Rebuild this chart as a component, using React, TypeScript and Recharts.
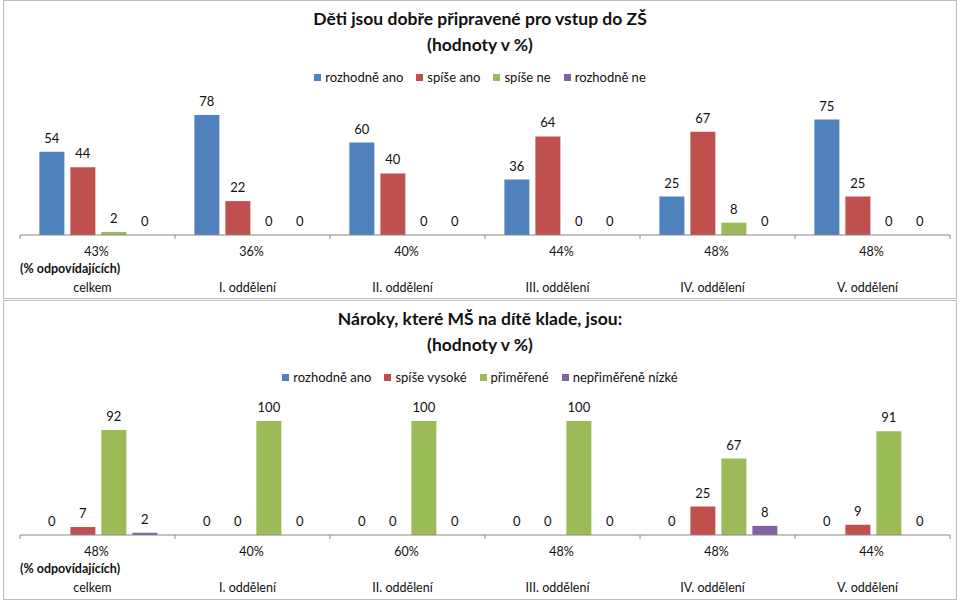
import React from 'react';
import { BarChart, Bar, XAxis, YAxis, LabelList } from 'recharts';

const categories = ['celkem', 'I. oddělení', 'II. oddělení', 'III. oddělení', 'IV. oddělení', 'V. oddělení'];

// Chart 1
const title1 = ['Děti jsou dobře připravené pro vstup do ZŠ', '(hodnoty v %)'];
const series1 = ['rozhodně ano', 'spíše ano', 'spíše ne', 'rozhodně ne'];
const s1a = [54, 78, 60, 36, 25, 75];
const s1b = [44, 22, 40, 64, 67, 25];
const s1c = [2, 0, 0, 0, 8, 0];
const s1d = [0, 0, 0, 0, 0, 0];
const pct1 = ['43%', '36%', '40%', '44%', '48%', '48%'];

// Chart 2
const title2 = ['Nároky, které MŠ na dítě klade, jsou:', '(hodnoty v %)'];
const series2 = ['rozhodně ano', 'spíše vysoké', 'přiměřené', 'nepřiměřeně nízké'];
const s2a = [0, 0, 0, 0, 0, 0];
const s2b = [7, 0, 0, 0, 25, 9];
const s2c = [92, 100, 100, 100, 67, 91];
const s2d = [2, 0, 0, 0, 8, 0];
const pct2 = ['48%', '40%', '60%', '48%', '48%', '44%'];

const respLabel = '(% odpovídajících)';
const colors = ['#4F81BD', '#C0504D', '#9BBB59', '#8064A2'];
const FONT = 'Lato, "Open Sans", sans-serif';

const CHART_W = 960;
const M_LEFT = 20;
const M_RIGHT = 10;
const BAND = (CHART_W - M_LEFT - M_RIGHT) / categories.length;

function build(vals: number[][]) {
  return categories.map((c, i) => ({ cat: c, a: vals[0][i], b: vals[1][i], c: vals[2][i], d: vals[3][i] }));
}

function makeTick(pcts: string[]) {
  return (props: any) => {
    const { x, y, payload, index } = props;
    const half = BAND / 2;
    const idx = typeof index === 'number' ? index : categories.indexOf(payload.value);
    return (
      <g>
        <line x1={x - half} x2={x - half} y1={y} y2={y + 4} stroke="#868686" />
        {idx === categories.length - 1 && <line x1={x + half} x2={x + half} y1={y} y2={y + 4} stroke="#868686" />}
        <text x={x - 1} y={y + 21} textAnchor="middle" fontSize={12.5} fontFamily={FONT} fill="#111">{pcts[idx]}</text>
        {idx === 0 && (
          <text x={x - half} y={y + 38} textAnchor="start" fontSize={12.5} fontWeight="bold" fontFamily={FONT} fill="#111">{respLabel}</text>
        )}
        <text x={x - 5} y={y + 57} textAnchor="middle" fontSize={12.5} fontFamily={FONT} fill="#111">{payload.value}</text>
      </g>
    );
  };
}

function Panel({ top, height, title, series, vals, pcts, plotTop }: any) {
  const data = build(vals);
  const keys = ['a', 'b', 'c', 'd'];
  return (
    <div style={{ position: 'absolute', left: 0, top, width: CHART_W, height }}>
      <div style={{ position: 'absolute', left: 3, top: 0, width: 952, height: height - 3, border: '1px solid #bdbdbd' }} />
      <div style={{ position: 'absolute', left: 0, top: 6, width: CHART_W, textAlign: 'center', fontFamily: FONT, fontWeight: 'bold', fontSize: 17.5, lineHeight: '26px', color: '#111' }}>
        <div>{title[0]}</div>
        <div>{title[1]}</div>
      </div>
      <div style={{ position: 'absolute', left: 0, top: 68, width: CHART_W, display: 'flex', justifyContent: 'center', fontFamily: FONT, fontSize: 13, color: '#111', lineHeight: '18px' }}>
        {series.map((s: string, i: number) => (
          <div key={s} style={{ display: 'flex', alignItems: 'center', marginLeft: i === 0 ? 0 : 13 }}>
            <span style={{ display: 'inline-block', width: 7, height: 7, background: colors[i], marginRight: 4 }} />
            <span>{s}</span>
          </div>
        ))}
      </div>
      <div style={{ position: 'absolute', left: 0, top: 0 }}>
        <BarChart width={CHART_W} height={300} data={data} margin={{ top: plotTop, right: M_RIGHT, left: M_LEFT, bottom: 0 }} barCategoryGap="12.5%" barGap={6}>
          <XAxis dataKey="cat" height={65} tickLine={false} tickSize={0} tickMargin={0} interval={0} stroke="#868686" tick={makeTick(pcts)} />
          <YAxis hide domain={[0, 100]} width={0} />
          {keys.map((k, i) => (
            <Bar key={k} dataKey={k} fill={colors[i]} minPointSize={0.01} isAnimationActive={false}>
              <LabelList dataKey={k} position="top" offset={9} fontSize={13} fontFamily={FONT} fill="#111" />
            </Bar>
          ))}
        </BarChart>
      </div>
    </div>
  );
}

export default function App() {
  return (
    <div style={{ position: 'absolute', left: 0, top: 0, width: 960, height: 601, background: '#fff' }}>
      <Panel top={0} height={300} title={title1} series={series1} vals={[s1a, s1b, s1c, s1d]} pcts={pct1} plotTop={81} />
      <Panel top={300} height={301} title={title2} series={series2} vals={[s2a, s2b, s2c, s2d]} pcts={pct2} plotTop={121} />
    </div>
  );
}
